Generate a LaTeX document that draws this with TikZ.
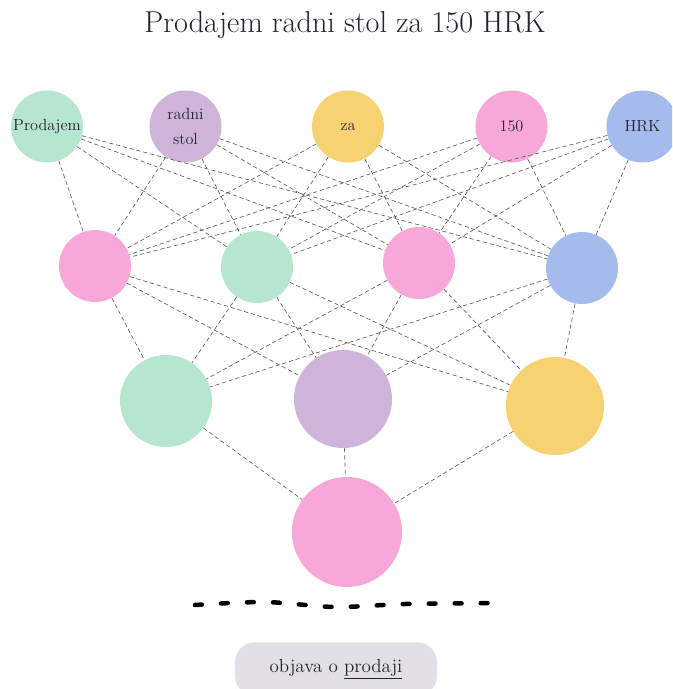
\documentclass[tikz,border=0pt]{standalone}
\usepackage{tikz}
\definecolor{mint}{RGB}{182,230,208}
\definecolor{lilac}{RGB}{205,180,216}
\definecolor{sand}{RGB}{246,210,115}
\definecolor{rose}{RGB}{247,168,216}
\definecolor{sky}{RGB}{165,187,236}
\definecolor{pebble}{RGB}{226,224,230}
\definecolor{ink}{RGB}{35,35,45}

\begin{document}
\begin{tikzpicture}[x=0.025cm, y=-0.025cm,
    neuron/.style={circle, inner sep=0pt, minimum size=1.8cm, text=ink, font=\fontsize{11.5}{18}\selectfont, align=center},
    link/.style={densely dashed, line width=0.45pt, black!65}]
    % Frame
    \useasboundingbox (0,0) rectangle (672,689);
    \clip (0,0) rectangle (672,689);

    % Title
    \node[text=ink, font=\fontsize{21.5}{26}\selectfont] (title) at (345,25) {Prodajem radni stol za 150 HRK};

    % Words
    \node[neuron, fill=mint]  (w1) at (47,126.5)    {Prodajem};
    \node[neuron, fill=lilac] (w2) at (185.5,126.5) {radni\\stol};
    \node[neuron, fill=sand]  (w3) at (348,126.5)   {za};
    \node[neuron, fill=rose]  (w4) at (511.5,126.5) {150};
    \node[neuron, fill=sky]   (w5) at (642.5,126.5) {HRK};

    % First hidden layer
    \node[neuron, fill=rose] (h1) at (95,266)  {};
    \node[neuron, fill=mint] (h2) at (257,267) {};
    \node[neuron, fill=rose] (h3) at (419,263) {};
    \node[neuron, fill=sky]  (h4) at (582,268) {};

    % Second hidden layer
    \node[neuron, fill=mint,  minimum size=2.3cm]  (g1) at (166,401) {};
    \node[neuron, fill=lilac, minimum size=2.45cm] (g2) at (343,399) {};
    \node[neuron, fill=sand,  minimum size=2.45cm] (g3) at (555,406) {};

    % Output
    \node[neuron, fill=rose, minimum size=2.75cm] (out) at (347,532) {};

    % Links
    \foreach \a in {w1,w2,w3,w4,w5}
        \foreach \b in {h1,h2,h3,h4}
            \draw[link] (\a) -- (\b);
    \foreach \a in {h1,h2,h3,h4}
        \foreach \b in {g1,g2,g3}
            \draw[link] (\a) -- (\b);
    \foreach \a in {g1,g2,g3}
        \draw[link] (\a) -- (out);

    % Scribble
    \draw[line width=3.2pt, line cap=round, dash pattern=on 0.17cm off 0.48cm]
        plot[smooth] coordinates {(195,605) (265,602) (335,607) (405,604) (495,603)};

    % Button
    \node[fill=pebble, rounded corners=0.5cm, minimum width=5.05cm, inner ysep=0.42cm,
        text=ink, font=\fontsize{13.5}{16}\selectfont, anchor=north] (post) at (336,642)
        {objava o \underline{prodaji}};
\end{tikzpicture}
\end{document}
